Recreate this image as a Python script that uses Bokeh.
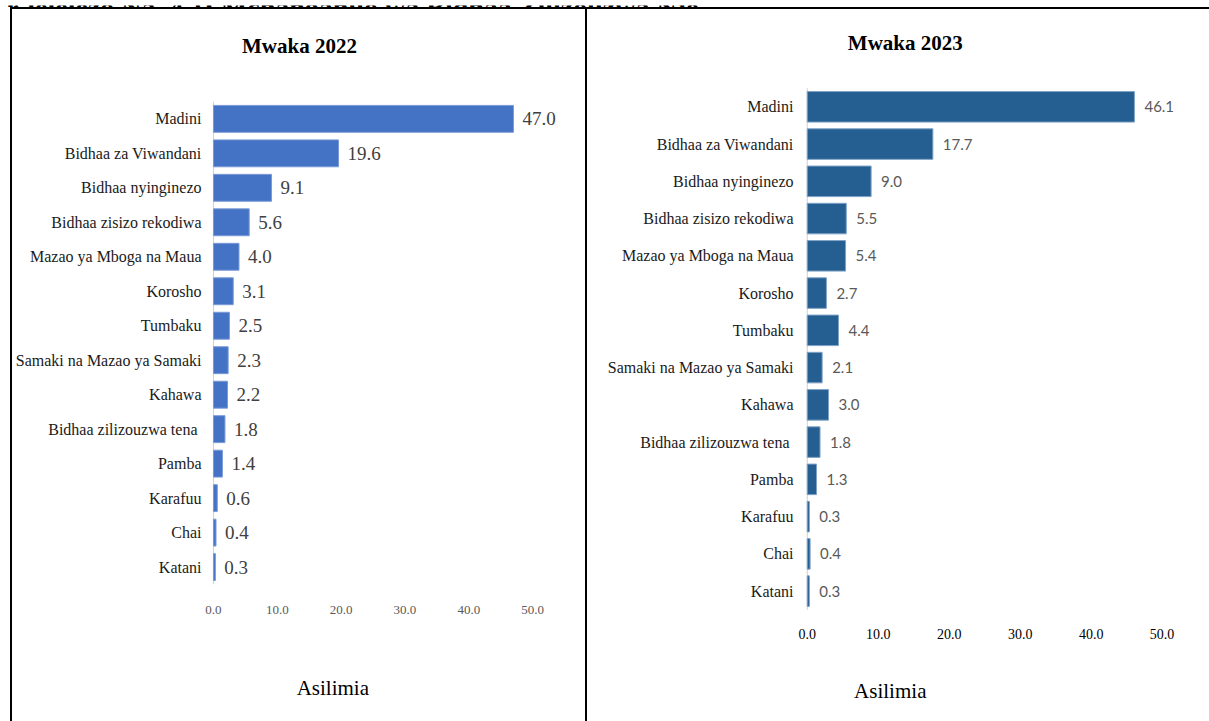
from bokeh.plotting import figure
from bokeh.models import ColumnDataSource, Range1d, FixedTicker, Spacer
from bokeh.layouts import row, column
from bokeh.embed import file_html
from bokeh.resources import INLINE
from bokeh.core.properties import value

categories = ["Madini", "Bidhaa za Viwandani", "Bidhaa nyinginezo", "Bidhaa zisizo rekodiwa",
              "Mazao ya Mboga na Maua", "Korosho", "Tumbaku", "Samaki na Mazao ya Samaki",
              "Kahawa", "Bidhaa zilizouzwa tena ", "Pamba", "Karafuu", "Chai", "Katani"]
values_2022 = [47.0, 19.6, 9.1, 5.6, 4.0, 3.1, 2.5, 2.3, 2.2, 1.8, 1.4, 0.6, 0.4, 0.3]
values_2023 = [46.1, 17.7, 9.0, 5.5, 5.4, 2.7, 4.4, 2.1, 3.0, 1.8, 1.3, 0.3, 0.4, 0.3]
x_ticks = [0, 10, 20, 30, 40, 50]
x_tick_labels = [f"{t:.1f}" for t in x_ticks]
titles = ["Mwaka 2022", "Mwaka 2023"]
axis_title = "Asilimia"
figure_caption = "Kielelezo Na. 4.1: Mchanganuo wa Bidhaa Zilizouzwa Nje"

SERIF = "'Liberation Serif', 'Times New Roman', serif"
N = len(categories)
slots = [N - 1 - i for i in range(N)]          # top-to-bottom order on a numeric axis


def panel(title, vals, cfg):
    src = ColumnDataSource(dict(pos=slots, val=vals, lab=[f"{v:.1f}" for v in vals]))
    p = figure(width=cfg["width"], height=cfg["height"], output_backend="svg", toolbar_location=None,
               y_range=Range1d(*cfg["yr"]), x_range=Range1d(*cfg["xr"]),
               x_axis_location=None,
               min_border_left=cfg["ml"], min_border_right=cfg["mr"],
               min_border_top=0, min_border_bottom=0)
    p.styles = cfg["styles"]
    p.outline_line_color = None
    p.xgrid.grid_line_color = None
    p.ygrid.grid_line_color = None
    p.background_fill_color = "white"
    p.border_fill_color = "white"

    # category axis line (only along the bars)
    p.segment(x0=[0], x1=[0], y0=[-0.5], y1=[N - 0.5], line_color="#D0D0D0", line_width=1)

    p.hbar(y="pos", right="val", left=0, height=cfg["bh"], source=src,
           fill_color=cfg["color"], line_color=cfg["edge"], line_width=1)
    p.text(x="val", y="pos", text="lab", source=src, x_offset=cfg["gap"],
           text_align="left", text_baseline="middle",
           text_font=value(cfg["vfont"]), text_font_size=cfg["vsize"], text_color=cfg["vcolor"])

    # value-axis tick labels
    p.text(x=x_ticks, y=[cfg["tky"]] * len(x_ticks), text=x_tick_labels,
           text_align="center", text_baseline="middle",
           text_font=value(SERIF), text_font_size=cfg["tsize"], text_color=cfg["tcolor"])

    ya = p.yaxis[0]
    ya.ticker = FixedTicker(ticks=slots)
    ya.major_label_overrides = {s: c for s, c in zip(slots, categories)}
    ya.axis_line_color = None
    ya.major_tick_line_color = None
    ya.minor_tick_line_color = None
    ya.major_tick_out = 0
    ya.major_tick_in = 0
    ya.major_label_standoff = cfg["ystand"]
    ya.major_label_text_font = SERIF
    ya.major_label_text_font_size = "16px"
    ya.major_label_text_color = "#1a1a1a"

    p.text(x=[cfg["tx"]], y=[cfg["ty"]], text=[title], text_align="center", text_baseline="middle",
           text_font=value(SERIF), text_font_style="bold", text_font_size="21px", text_color="black")
    p.text(x=[cfg["ax"]], y=[cfg["ay"]], text=[axis_title], text_align="center", text_baseline="middle",
           text_font=value(SERIF), text_font_size="21px", text_color="black")
    return p


cfg_left = dict(width=577, height=714, xr=(-2.5, 55), yr=(-4.537, 16.172), ml=185, mr=25,
                styles={"border-top": "2px solid black", "border-left": "2px solid black",
                        "border-right": "2px solid black"},
                bh=0.78, color="#4472C4", edge="#7A9AD6", gap=9, vfont=SERIF, vsize="19px",
                vcolor="#404040", tky=-1.251, tsize="13px", tcolor="#595959", ystand=-4,
                tx=13.47, ty=15.125, ax=18.7, ay=-3.52)
cfg_right = dict(width=622, height=714, xr=(-2.5, 54), yr=(-3.553, 15.612), ml=202, mr=19,
                 styles={"border-top": "2px solid black"},
                 bh=0.82, color="#255E91", edge="#7FA3C6", gap=10, vfont="Lato", vsize="15px",
                 vcolor="#595959", tky=-1.157, tsize="14px", tcolor="#000000", ystand=-4,
                 tx=13.82, ty=14.724, ax=11.7, ay=-2.692)

p1 = panel(titles[0], values_2022, cfg_left)
p2 = panel(titles[1], values_2023, cfg_right)

# strip holding the (cut-off) figure caption above the bordered table
strip = figure(width=1209, height=7, output_backend="svg", toolbar_location=None,
               x_range=Range1d(0, 1209), y_range=Range1d(0, 7),
               x_axis_type=None, y_axis_type=None, min_border=0)
strip.outline_line_color = None
strip.xgrid.grid_line_color = None
strip.ygrid.grid_line_color = None
strip.text(x=[5], y=[5], text=[figure_caption], text_baseline="alphabetic", text_align="left",
           text_font=value(SERIF), text_font_style="bold", text_font_size="28px", text_color="black")

layout = column(strip, row(Spacer(width=10, height=714), p1, p2))
open("out.html", "w").write(file_html(layout, INLINE))
